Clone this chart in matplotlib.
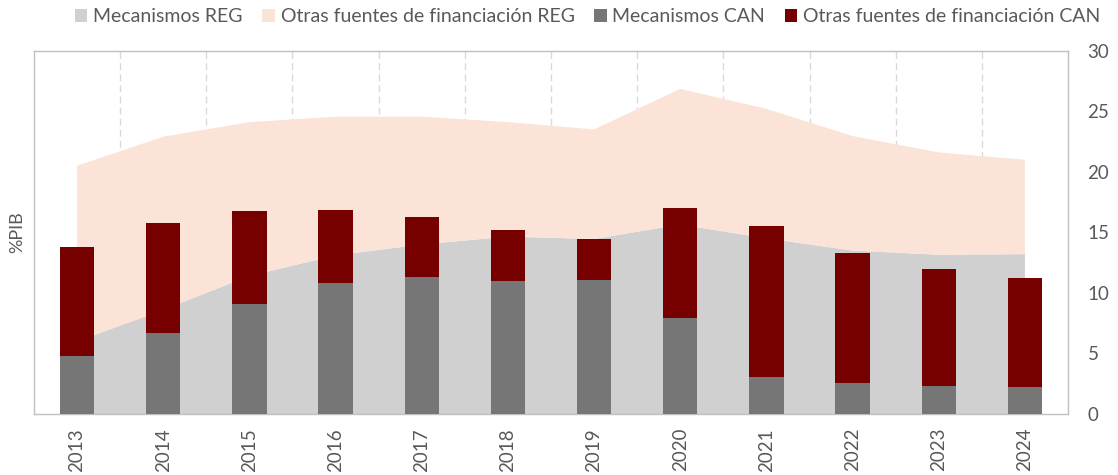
import matplotlib
matplotlib.use("Agg")
import matplotlib.pyplot as plt
import numpy as np
from matplotlib.patches import Patch

years = ["2013", "2014", "2015", "2016", "2017", "2018", "2019", "2020", "2021", "2022", "2023", "2024"]
reg_mecanismos = [6.0, 8.6, 11.4, 13.1, 14.0, 14.65, 14.45, 15.65, 14.5, 13.5, 13.15, 13.2]
reg_total = [20.5, 22.9, 24.1, 24.55, 24.55, 24.1, 23.5, 26.85, 25.2, 22.95, 21.6, 21.0]
reg_otras = [t - m for t, m in zip(reg_total, reg_mecanismos)]
can_mecanismos = [4.8, 6.7, 9.1, 10.8, 11.3, 10.95, 11.05, 7.9, 3.05, 2.6, 2.3, 2.2]
can_total = [13.75, 15.75, 16.75, 16.85, 16.3, 15.2, 14.45, 17.05, 15.5, 13.3, 12.0, 11.25]
can_otras = [t - m for t, m in zip(can_total, can_mecanismos)]

series_names = ["Mecanismos REG", "Otras fuentes de financiación REG",
                "Mecanismos CAN", "Otras fuentes de financiación CAN"]
colors = ["#D0D0D0", "#FBE3D7", "#767676", "#760000"]
txt = "#595959"

plt.rcParams['font.family'] = ['Lato', 'DejaVu Sans']

fig = plt.figure(figsize=(11.18, 4.75), dpi=100)
ax = fig.add_axes([34/1118, 1-414/475, (1068-34)/1118, (414-50.7)/475])

x = np.arange(len(years))
ax.stackplot(x, reg_mecanismos, reg_otras, colors=colors[:2], zorder=1, linewidth=0)
ax.bar(x, can_mecanismos, width=0.4, color=colors[2], zorder=3)
ax.bar(x, can_otras, width=0.4, bottom=can_mecanismos, color=colors[3], zorder=3)

ax.set_xlim(-0.5, len(years) - 0.5)
ax.set_ylim(0, 30)
ax.set_xticks(x)
ax.set_xticklabels(years, rotation=90, fontsize=13.5, color=txt)
ax.set_xticks(np.arange(0.5, len(years) - 1, 1), minor=True)
ax.grid(True, which='minor', axis='x', color='#D9D9D9', linestyle=(0, (5, 3)), linewidth=1, zorder=0)
ax.set_axisbelow(True)
ax.tick_params(axis='x', which='both', length=0, pad=10)

ax.yaxis.tick_right()
ax.set_yticks(np.arange(0, 31, 5))
ax.tick_params(axis='y', length=0, pad=14, labelsize=13.5, labelcolor=txt)
ax.yaxis.set_label_position('left')
ax.set_ylabel("%PIB", fontsize=13, color=txt, labelpad=6)

for s in ax.spines.values():
    s.set_color('#C0C0C0')
    s.set_linewidth(1)

handles = [Patch(facecolor=c, edgecolor='none') for c in colors]
fig.legend(handles, series_names, loc='upper center', bbox_to_anchor=(0.5255, 1.02), ncol=4,
           frameon=False, fontsize=14.0, labelcolor=txt, handlelength=0.65, handleheight=0.65,
           handletextpad=0.3, columnspacing=1.0)

fig.savefig("out.png", dpi=100)
